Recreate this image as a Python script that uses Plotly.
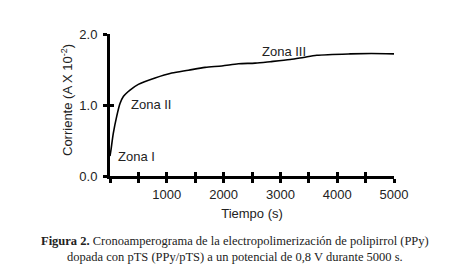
import plotly.graph_objects as go

tiempo = [0, 18, 58, 118, 176, 235, 352, 499, 793, 1087, 1380, 1674, 1968, 2261, 2555, 2819, 3172, 3407, 3642, 4229, 4600, 5000]
corriente = [0.28, 0.37, 0.60, 0.84, 1.02, 1.12, 1.21, 1.29, 1.38, 1.45, 1.49, 1.53, 1.55, 1.58, 1.59, 1.61, 1.64, 1.67, 1.70, 1.72, 1.725, 1.72]

x_ticks = [1000, 2000, 3000, 4000, 5000]
x_ticktext = ["1000", "2000", "3000", "4000", "5000"]
x_minor_step = 500
y_ticks = [0, 1, 2]
y_ticktext = ["0.0", "1.0", "2.0"]

zonas = ["Zona I", "Zona II", "Zona III"]
zona_x = [106, 335, 3066]
zona_y = [0.27, 1.01, 1.75]
zona_anchor = ["left", "left", "center"]

x_title = "Tiempo (s)"
y_title = "Corriente (A X 10<sup>-2</sup>)"
caption = ("<b>Figura 2.</b> Cronoamperograma de la electropolimerización de polipirrol (PPy)"
           "<br>dopada con pTS (PPy/pTS) a un potencial de 0,8 V durante 5000 s.")

fig = go.Figure()
fig.add_trace(go.Scatter(x=tiempo, y=corriente, mode="lines",
                         line=dict(color="black", width=1.6, shape="spline", smoothing=0.8),
                         showlegend=False, hoverinfo="skip"))
# empty trace on overlay axes so ticks cross the axis lines
fig.add_trace(go.Scatter(x=[None], y=[None], xaxis="x2", yaxis="y2", showlegend=False))

font_sans = "Liberation Sans, Arial, sans-serif"
txt = "#222"
tick_style = dict(ticklen=4, tickwidth=3, tickcolor="black")
# page body has an 8px margin, so the figure is 462x269
fig.update_layout(
    width=462, height=269,
    margin=dict(l=102, r=76, t=26, b=101),
    paper_bgcolor="white", plot_bgcolor="white",
    font=dict(family=font_sans, size=13, color=txt),
    xaxis=dict(range=[0, 5000], tickvals=x_ticks, ticktext=x_ticktext,
               ticks="outside", **tick_style,
               minor=dict(dtick=x_minor_step, tick0=0, ticks="outside", **tick_style, showgrid=False),
               showline=True, linewidth=3, linecolor="black", showgrid=False, zeroline=False,
               title=dict(text=x_title, font=dict(size=13), standoff=9),
               tickfont=dict(size=13)),
    yaxis=dict(range=[0, 2], tickvals=y_ticks, ticktext=y_ticktext,
               ticks="outside", **tick_style,
               showline=True, linewidth=3, linecolor="black", showgrid=False, zeroline=False,
               tickfont=dict(size=13), ticklabelstandoff=3),
    xaxis2=dict(overlaying="x", matches="x", tickvals=x_ticks, showticklabels=False,
                ticks="inside", **tick_style,
                minor=dict(dtick=x_minor_step, tick0=0, ticks="inside", **tick_style, showgrid=False),
                showline=False, showgrid=False, zeroline=False),
    yaxis2=dict(overlaying="y", matches="y", tickvals=y_ticks, showticklabels=False,
                ticks="inside", **tick_style,
                showline=False, showgrid=False, zeroline=False),
)

for t, xx, yy, anc in zip(zonas, zona_x, zona_y, zona_anchor):
    fig.add_annotation(x=xx, y=yy, text=t, showarrow=False, xanchor=anc, yanchor="middle",
                       font=dict(family=font_sans, size=13, color=txt))

# y-axis title
fig.add_annotation(xref="paper", yref="paper", x=(67 - 110) / 284, y=(176 - 100) / 142,
                   xanchor="center", yanchor="middle", textangle=-90, showarrow=False,
                   text=y_title, font=dict(family=font_sans, size=13, color=txt))

fig.add_annotation(xref="paper", yref="paper", x=(235 - 110) / 284, y=(176 - 232) / 142,
                   xanchor="center", yanchor="top",
                   showarrow=False, align="center", text=caption,
                   font=dict(family="Liberation Serif, Times New Roman, serif", size=12.5, color=txt))

fig.write_html("out.html")
